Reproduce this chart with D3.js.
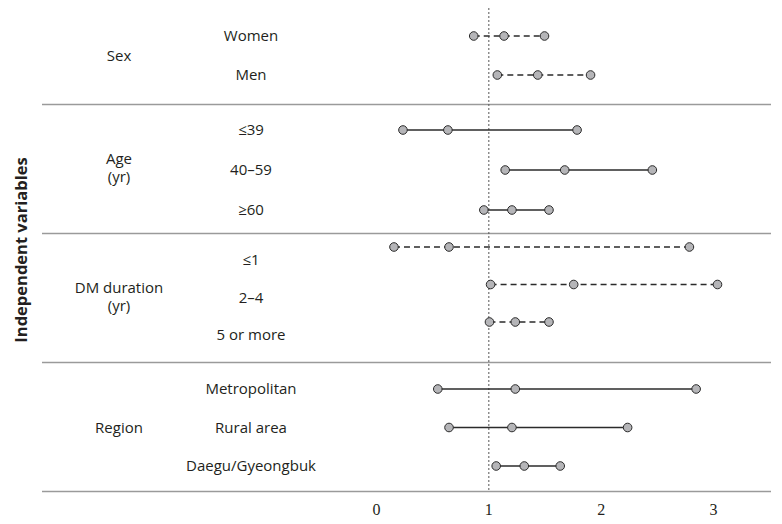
<!DOCTYPE html>
<html>
<head>
<meta charset="utf-8">
<script src="https://cdn.jsdelivr.net/npm/d3@7"></script>
<style>
  body { margin: 0; background: #fff; }
  svg { display: block; }
  .lab { font-family: "Open Sans", "Noto Sans", sans-serif; font-size: 15px; fill: #231f20; }
  .tick text { font-family: "Liberation Serif", "DejaVu Serif", serif; fill: #231f20; }
</style>
</head>
<body>
<div id="chart"></div>
<script>
// data
const groups = ['Sex', 'Age (yr)', 'DM duration (yr)', 'Region'];
const rowGroup = [0, 0, 1, 1, 1, 2, 2, 2, 3, 3, 3];
const rowLabels = ['Women', 'Men', '\u226439', '40\u201359', '\u226560',
                   '\u22641', '2\u20134', '5 or more',
                   'Metropolitan', 'Rural area', 'Daegu/Gyeongbuk'];
const lower = [0.87, 1.08, 0.24, 1.15, 0.96, 0.16, 1.02, 1.01, 0.55, 0.65, 1.07];
const estimate = [1.14, 1.44, 0.64, 1.68, 1.21, 0.65, 1.76, 1.24, 1.24, 1.21, 1.32];
const upper = [1.50, 1.91, 1.79, 2.46, 1.54, 2.79, 3.04, 1.54, 2.85, 2.24, 1.64];
const dashedGroups = [0, 2];
const xTicks = [0, 1, 2, 3];

var state = {
    width: 782,
    height: 524,
    lineLeft: 42,
    lineRight: 771,
    groupX: 119,
    rowX: 251,
    // point range for each section, then where the section ends
    sectionRows: [[36, 75], [130, 210], [247, 322], [389, 466]],
    sectionEnd: [104, 233, 362, 491],
    ink: '#2b2b2b',
    dotFill: '#b5b5b8'
};

let svg = d3.select('#chart')
    .append('svg')
        .attr('width', state.width)
        .attr('height', state.height);

let x = d3.scaleLinear().domain([0, 3]).range([376, 713]);

// one point scale per section for the rows in it
let rowScales = groups.map((g, gi) => {
    let rows = rowLabels.filter((r, i) => rowGroup[i] == gi);
    return d3.scalePoint().domain(rows).range(state.sectionRows[gi]);
});

function rowY(i){
    return rowScales[rowGroup[i]](rowLabels[i]);
}

let rows = rowLabels.map((r, i) => ({
    label: r, group: rowGroup[i], lo: lower[i], est: estimate[i], hi: upper[i], y: rowY(i)
}));

// separators
svg.selectAll('.sep')
    .data(state.sectionEnd)
    .enter()
    .append('line')
        .attr('class', 'sep')
        .attr('x1', state.lineLeft)
        .attr('x2', state.lineRight)
        .attr('y1', d => d + 0.5)
        .attr('y2', d => d + 0.5)
        .style('stroke', '#9a9a9a')
        .style('stroke-width', 1.3);

// reference line at 1
svg.append('line')
    .attr('x1', x(1) + 0.5)
    .attr('x2', x(1) + 0.5)
    .attr('y1', 8)
    .attr('y2', state.sectionEnd[3])
    .style('stroke', '#555')
    .style('stroke-width', 1)
    .style('stroke-dasharray', '2,2');

// x axis labels only
let axis = svg.append('g')
    .attr('transform', 'translate(0,' + state.sectionEnd[3] + ')')
    .call(d3.axisBottom(x).tickValues(xTicks).tickFormat(d3.format('d')).tickSize(0).tickPadding(13));
axis.select('.domain').remove();
axis.selectAll('.tick text').style('font-size', '16px');

// interval lines
svg.selectAll('.ci')
    .data(rows)
    .enter()
    .append('line')
        .attr('class', 'ci')
        .attr('x1', d => x(d.lo))
        .attr('x2', d => x(d.hi))
        .attr('y1', d => d.y)
        .attr('y2', d => d.y)
        .style('stroke', state.ink)
        .style('stroke-width', 1.5)
        .style('stroke-dasharray', d => dashedGroups.includes(d.group) ? '6,4' : null);

// dots
let dots = [];
rows.forEach(d => {
    [d.lo, d.est, d.hi].forEach(v => dots.push({v: v, y: d.y}));
});
svg.selectAll('.dot')
    .data(dots)
    .enter()
    .append('circle')
        .attr('class', 'dot')
        .attr('cx', d => x(d.v))
        .attr('cy', d => d.y)
        .attr('r', 4.3)
        .style('fill', state.dotFill)
        .style('stroke', state.ink)
        .style('stroke-width', 1);

// row labels (DM duration labels sit a bit lower than their points)
svg.selectAll('.rowlab')
    .data(rows)
    .enter()
    .append('text')
        .attr('class', 'lab rowlab')
        .attr('x', state.rowX)
        .attr('y', d => d.y + (d.group == 2 ? 13 : 0))
        .attr('dy', '0.35em')
        .attr('text-anchor', 'middle')
        .text(d => d.label);

// group labels, split "(yr)" onto a second line
let groupY = [56, 168, 297, 428];
groups.forEach((g, gi) => {
    let m = g.match(/^(.*) (\(yr\))$/);
    let t = svg.append('text')
        .attr('class', 'lab')
        .attr('x', state.groupX)
        .attr('y', groupY[gi])
        .attr('text-anchor', 'middle');
    if(m){
        t.append('tspan').attr('x', state.groupX).attr('dy', '-0.3em').text(m[1]);
        t.append('tspan').attr('x', state.groupX).attr('dy', '1.25em').text(m[2]);
    }
    else{
        t.attr('dy', '0.35em').text(g);
    }
});

// y title
svg.append('text')
    .attr('class', 'lab')
    .attr('transform', 'translate(27,250) rotate(-90)')
    .attr('text-anchor', 'middle')
    .style('font-weight', 700)
    .style('font-size', '16.5px')
    .text('Independent variables');
</script>
</body>
</html>
